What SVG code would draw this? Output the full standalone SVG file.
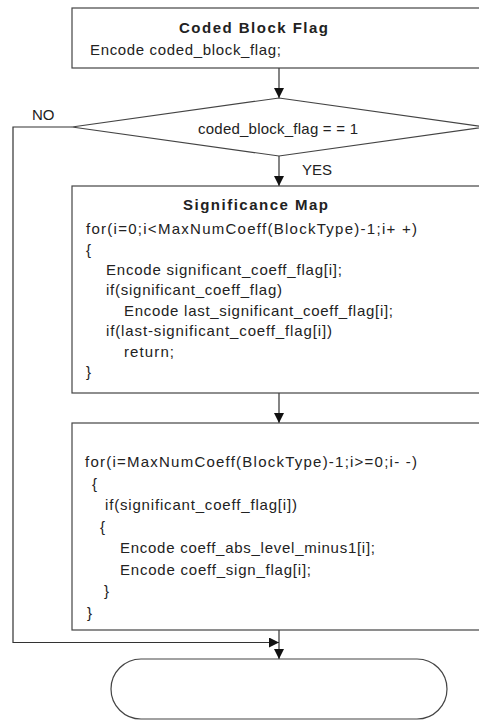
<svg xmlns="http://www.w3.org/2000/svg" width="479" height="720" viewBox="0 0 479 720">
<style>
.box{fill:#fff;stroke:#444;stroke-width:1.2}
.ln{fill:none;stroke:#333;stroke-width:1.2}
text{font-family:"Liberation Sans",Arial,sans-serif;font-size:15px;fill:#222}
.b{font-weight:bold}
</style>
<defs>
<marker id="ah" viewBox="0 0 10 10" refX="10" refY="5" markerWidth="10" markerHeight="10" markerUnits="userSpaceOnUse" orient="auto">
<path d="M0,0 L10,5 L0,10 Z" fill="#111"/>
</marker>
</defs>
<rect width="479" height="720" fill="#fff"/>
<g id="connectors">
<line class="ln" x1="279" y1="68" x2="279" y2="98" marker-end="url(#ah)"/>
<line class="ln" x1="279" y1="156" x2="279" y2="186" marker-end="url(#ah)"/>
<line class="ln" x1="279" y1="393" x2="279" y2="423" marker-end="url(#ah)"/>
<line class="ln" x1="279" y1="630" x2="279" y2="659" marker-end="url(#ah)"/>
<polyline class="ln" points="72,127 13,127 13,642.5 279,642.5" marker-end="url(#ah)"/>
<text x="32" y="120">NO</text>
<text x="302" y="175">YES</text>
</g>
<g id="coded-block-flag">
<rect class="box" x="72" y="8" width="420" height="60"/>
<text class="b" x="179" y="33" textLength="149" lengthAdjust="spacing">Coded Block Flag</text>
<text x="90" y="55" textLength="191" lengthAdjust="spacing">Encode coded_block_flag;</text>
</g>
<g id="decision">
<polygon class="box" points="279,98 486,127 279,156 72,127"/>
<text x="198" y="134" textLength="160" lengthAdjust="spacing">coded_block_flag = = 1</text>
</g>
<g id="significance-map">
<rect class="box" x="72" y="186" width="420" height="207"/>
<text class="b" x="183" y="210" textLength="145" lengthAdjust="spacing">Significance Map</text>
<text x="86" y="234" textLength="331" lengthAdjust="spacing">for(i=0;i&lt;MaxNumCoeff(BlockType)-1;i+ +)</text>
<text x="86" y="254.5">{</text>
<text x="106" y="275" textLength="236" lengthAdjust="spacing">Encode significant_coeff_flag[i];</text>
<text x="106" y="295" textLength="176" lengthAdjust="spacing">if(significant_coeff_flag)</text>
<text x="124" y="316" textLength="269" lengthAdjust="spacing">Encode last_significant_coeff_flag[i];</text>
<text x="106" y="336" textLength="226" lengthAdjust="spacing">if(last-significant_coeff_flag[i])</text>
<text x="124" y="357" textLength="50" lengthAdjust="spacing">return;</text>
<text x="86" y="377">}</text>
</g>
<g id="level-coding">
<rect class="box" x="72" y="423" width="420" height="207"/>
<text x="85" y="467" textLength="332" lengthAdjust="spacing">for(i=MaxNumCoeff(BlockType)-1;i&gt;=0;i- -)</text>
<text x="92" y="489">{</text>
<text x="105" y="510" textLength="192" lengthAdjust="spacing">if(significant_coeff_flag[i])</text>
<text x="100" y="532">{</text>
<text x="120" y="553" textLength="255" lengthAdjust="spacing">Encode coeff_abs_level_minus1[i];</text>
<text x="120" y="575" textLength="191" lengthAdjust="spacing">Encode coeff_sign_flag[i];</text>
<text x="104" y="596">}</text>
<text x="87" y="618">}</text>
</g>
<g id="end">
<rect class="box" x="111" y="659" width="336" height="60" rx="30" ry="30"/>
</g>
</svg>
